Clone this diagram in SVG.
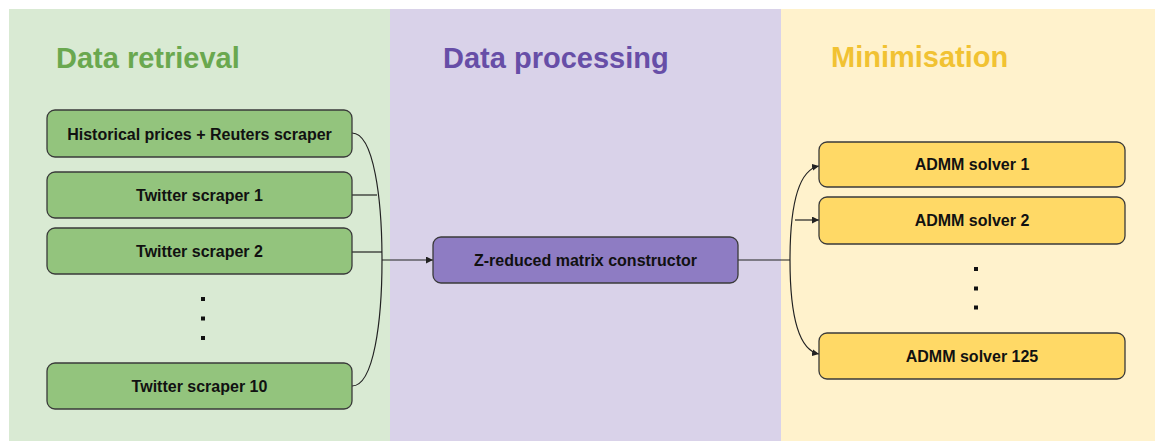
<svg xmlns="http://www.w3.org/2000/svg" width="1155" height="441" viewBox="0 0 1155 441">
  <style>
    .title { font-family: "Liberation Sans", Arial, sans-serif; font-weight: bold; font-size: 29px; }
    .label { font-family: "Liberation Sans", Arial, sans-serif; font-weight: bold; font-size: 16px; fill: #111; text-anchor: middle; }
    .box { stroke: #3a3a3a; stroke-width: 1.3; }
    .g { fill: #93c47d; }
    .p { fill: #8e7cc3; }
    .y { fill: #ffd966; }
    .wire { fill: none; stroke: #222; stroke-width: 1.2; }
    .dot { fill: #111; }
  </style>
  <defs>
    <marker id="arrow" viewBox="0 0 10 10" refX="10" refY="5" markerWidth="7" markerHeight="7" markerUnits="userSpaceOnUse" orient="auto">
      <path d="M0,0 L10,5 L0,10 z" fill="#222"/>
    </marker>
  </defs>

  <rect width="1155" height="441" fill="#ffffff"/>

  <!-- stage panels -->
  <g id="panels">
    <rect x="9" y="9" width="381" height="432" fill="#d9ead3"/>
    <rect x="390" y="9" width="391" height="432" fill="#d9d2e9"/>
    <rect x="781" y="9" width="374" height="432" fill="#fff2cc"/>
    <text class="title" x="56" y="68" fill="#6aa84f">Data retrieval</text>
    <text class="title" x="443" y="68" fill="#674ea7">Data processing</text>
    <text class="title" x="831" y="67" fill="#f1c232">Minimisation</text>
  </g>

  <!-- connectors -->
  <g id="connectors">
    <path class="wire" d="M352,133 C374,133 382,200 382,260"/>
    <path class="wire" d="M352,386 C374,386 382,320 382,260"/>
    <path class="wire" d="M352,195 L377,195"/>
    <path class="wire" d="M352,252 L382,252"/>
    <path class="wire" d="M382,260 L433,260" marker-end="url(#arrow)"/>
    <path class="wire" d="M738,260 L790,260"/>
    <path class="wire" d="M790,260 C790,205 798,170 819,166" marker-end="url(#arrow)"/>
    <path class="wire" d="M790,260 C790,315 798,350 819,354" marker-end="url(#arrow)"/>
    <path class="wire" d="M795,220 L819,220" marker-end="url(#arrow)"/>
  </g>

  <!-- data retrieval nodes -->
  <g id="node-reuters">
    <rect class="box g" x="47" y="110" width="305" height="47" rx="8"/>
    <text class="label" x="199.5" y="139.5">Historical prices + Reuters scraper</text>
  </g>
  <g id="node-twitter-1">
    <rect class="box g" x="47" y="172" width="305" height="46" rx="8"/>
    <text class="label" x="199.5" y="200.5">Twitter scraper 1</text>
  </g>
  <g id="node-twitter-2">
    <rect class="box g" x="47" y="228" width="305" height="46" rx="8"/>
    <text class="label" x="199.5" y="256.5">Twitter scraper 2</text>
  </g>
  <g id="dots-left">
    <rect class="dot" x="201" y="297" width="4" height="4"/>
    <rect class="dot" x="201" y="316.5" width="4" height="4"/>
    <rect class="dot" x="201" y="336" width="4" height="4"/>
  </g>
  <g id="node-twitter-10">
    <rect class="box g" x="47" y="363" width="305" height="46" rx="8"/>
    <text class="label" x="199.5" y="391.5">Twitter scraper 10</text>
  </g>

  <!-- data processing node -->
  <g id="node-matrix">
    <rect class="box p" x="433" y="237" width="305" height="46" rx="8"/>
    <text class="label" x="585.5" y="265.5">Z-reduced matrix constructor</text>
  </g>

  <!-- minimisation nodes -->
  <g id="node-admm-1">
    <rect class="box y" x="819" y="142" width="306" height="45" rx="8"/>
    <text class="label" x="972" y="170">ADMM solver 1</text>
  </g>
  <g id="node-admm-2">
    <rect class="box y" x="819" y="197" width="306" height="47" rx="8"/>
    <text class="label" x="972" y="226">ADMM solver 2</text>
  </g>
  <g id="dots-right">
    <rect class="dot" x="974" y="267" width="4" height="4"/>
    <rect class="dot" x="974" y="286.5" width="4" height="4"/>
    <rect class="dot" x="974" y="305.5" width="4" height="4"/>
  </g>
  <g id="node-admm-125">
    <rect class="box y" x="819" y="333" width="306" height="46" rx="8"/>
    <text class="label" x="972" y="361.5">ADMM solver 125</text>
  </g>
</svg>
